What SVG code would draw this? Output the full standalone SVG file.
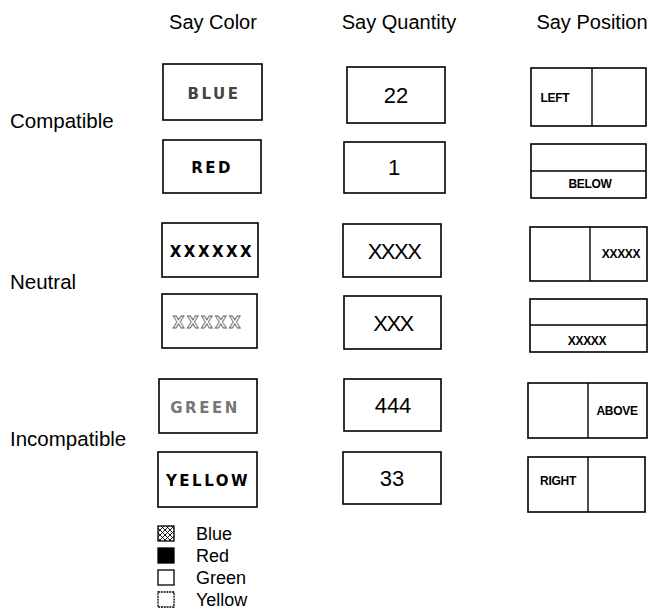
<svg xmlns="http://www.w3.org/2000/svg" width="653" height="612" viewBox="0 0 653 612">
<style>
.hdr{font-family:"Liberation Sans",Arial,sans-serif;font-size:20px;fill:#000;text-anchor:middle}
.row{font-family:"Liberation Sans",Arial,sans-serif;font-size:20.5px;fill:#000}
.box{fill:#fff;stroke:#000;stroke-width:1.6}
.div{stroke:#000;stroke-width:1.4}
.ct{font-family:"DejaVu Sans",sans-serif;font-size:15px;font-weight:bold;letter-spacing:2.5px;text-anchor:middle}
.qt{font-family:"Liberation Sans",Arial,sans-serif;font-size:22px;text-anchor:middle;fill:#000}
.pt{font-family:"Liberation Sans",Arial,sans-serif;font-size:12px;font-weight:bold;text-anchor:middle;fill:#000;letter-spacing:-0.3px}
.lg{font-family:"Liberation Sans",Arial,sans-serif;font-size:18px;fill:#000}
.sq{stroke:#000;stroke-width:1.3;fill:#fff}
</style>
<defs>
<pattern id="hatch" width="5" height="5" patternUnits="userSpaceOnUse">
<path d="M0,0 L5,5 M5,0 L0,5" stroke="#000" stroke-width="0.9"/>
</pattern>
</defs>
<g id="headers">
<text class="hdr" x="213" y="29">Say Color</text>
<text class="hdr" x="399" y="29">Say Quantity</text>
<text class="hdr" x="592" y="29">Say Position</text>
</g>
<g id="row-labels">
<text class="row" x="10" y="128">Compatible</text>
<text class="row" x="10" y="289">Neutral</text>
<text class="row" x="10" y="446">Incompatible</text>
</g>
<g id="color-blue"><rect class="box" x="163" y="64" width="99" height="56"/><text class="ct" x="214" y="99" fill="#444">BLUE</text></g>
<g id="color-red"><rect class="box" x="163" y="140" width="98" height="53"/><text class="ct" x="212" y="173" fill="#000">RED</text></g>
<g id="color-x6"><rect class="box" x="162" y="223" width="96" height="54"/><text class="ct" x="212" y="257" fill="#000">XXXXXX</text></g>
<g id="color-x5"><rect class="box" x="162" y="294" width="95" height="54"/><text class="ct" x="208" y="328" fill="#fff" stroke="#666" stroke-width="0.9">XXXXX</text></g>
<g id="color-green"><rect class="box" x="159" y="379" width="98" height="54"/><text class="ct" x="205" y="413" fill="#777">GREEN</text></g>
<g id="color-yellow"><rect class="box" x="158" y="452" width="99" height="55"/><text class="ct" x="208" y="486" fill="#000">YELLOW</text></g>
<g id="qty-22"><rect class="box" x="347" y="67" width="98" height="56"/><text class="qt" x="396" y="103">22</text></g>
<g id="qty-1"><rect class="box" x="344" y="142" width="101" height="51"/><text class="qt" x="394" y="175">1</text></g>
<g id="qty-xxxx"><rect class="box" x="343" y="224" width="98" height="53"/><text class="qt" x="394" y="259" letter-spacing="-1.5">XXXX</text></g>
<g id="qty-xxx"><rect class="box" x="344" y="296" width="97" height="53"/><text class="qt" x="393" y="331" letter-spacing="-1.5">XXX</text></g>
<g id="qty-444"><rect class="box" x="344" y="379" width="97" height="52"/><text class="qt" x="393" y="413">444</text></g>
<g id="qty-33"><rect class="box" x="343" y="452" width="98" height="52"/><text class="qt" x="392" y="486">33</text></g>
<g id="pos-left"><rect class="box" x="531" y="68" width="115" height="58"/><line class="div" x1="592" y1="68" x2="592" y2="126"/><text class="pt" x="555" y="102">LEFT</text></g>
<g id="pos-below"><rect class="box" x="531" y="144" width="115" height="54"/><line class="div" x1="531" y1="171" x2="646" y2="171"/><text class="pt" x="590" y="188">BELOW</text></g>
<g id="pos-xright"><rect class="box" x="530" y="227" width="117" height="54"/><line class="div" x1="590" y1="227" x2="590" y2="281"/><text class="pt" x="621" y="258" letter-spacing="-1">XXXXX</text></g>
<g id="pos-xbelow"><rect class="box" x="530" y="299" width="117" height="53"/><line class="div" x1="530" y1="325" x2="647" y2="325"/><text class="pt" x="587" y="345" letter-spacing="-1">XXXXX</text></g>
<g id="pos-above"><rect class="box" x="528" y="383" width="119" height="55"/><line class="div" x1="588" y1="383" x2="588" y2="438"/><text class="pt" x="617" y="415">ABOVE</text></g>
<g id="pos-right"><rect class="box" x="528" y="457" width="117" height="55"/><line class="div" x1="588" y1="457" x2="588" y2="512"/><text class="pt" x="558" y="485">RIGHT</text></g>
<g id="legend">
<rect class="sq" x="158" y="526" width="16" height="15" style="fill:url(#hatch)"/>
<text class="lg" x="196" y="540">Blue</text>
<rect class="sq" x="158" y="548" width="16" height="15" style="fill:#000"/>
<text class="lg" x="196" y="562">Red</text>
<rect class="sq" x="158" y="570" width="16" height="15"/>
<text class="lg" x="196" y="584">Green</text>
<rect class="sq" x="158" y="592" width="16" height="15" stroke-dasharray="2,0.8"/>
<text class="lg" x="196" y="606">Yellow</text>
</g>
</svg>
